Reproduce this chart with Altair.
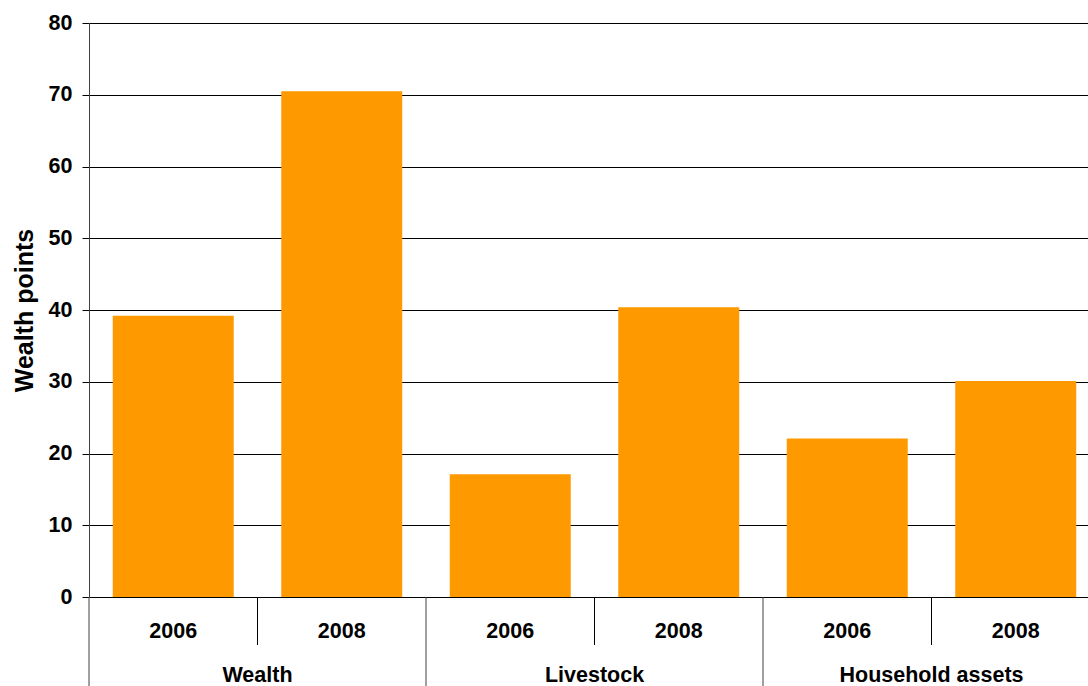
import altair as alt
import pandas as pd

groups = ["Wealth", "Wealth", "Livestock", "Livestock", "Household assets", "Household assets"]
years = ["2006", "2008", "2006", "2008", "2006", "2008"]
values = [39.2, 70.5, 17.1, 40.4, 22.1, 30.1]
keys = [g + " " + y for g, y in zip(groups, years)]

group_names = ["Wealth", "Livestock", "Household assets"]
group_centers = [1, 3, 5]
year_centers = [0.5, 1.5, 2.5, 3.5, 4.5, 5.5]
short_seps = [1, 3, 5]
long_seps = [0, 2, 4, 6]

FONT = "Liberation Sans"
W, H = 999, 574
RANGE = [0, 1011]

bars_df = pd.DataFrame({"key": keys, "group": groups, "year": years, "value": values})
year_df = pd.DataFrame({"pos": year_centers, "label": years})
group_df = pd.DataFrame({"pos": group_centers, "label": group_names})
short_df = pd.DataFrame({"pos": short_seps})
long_df = pd.DataFrame({"pos": long_seps})

qx = alt.Scale(domain=[0, 6], range=RANGE, nice=False, zero=False)

bars = alt.Chart(bars_df).mark_bar(color="#FF9900").encode(
    x=alt.X("key:N", sort=keys, axis=None,
            scale=alt.Scale(domain=keys, range=RANGE, paddingInner=0.282, paddingOuter=0.141)),
    y=alt.Y("value:Q",
            scale=alt.Scale(domain=[0, 80], nice=False),
            axis=alt.Axis(values=[0, 10, 20, 30, 40, 50, 60, 70, 80], grid=True,
                          gridColor="#000000", gridWidth=1, gridOpacity=1,
                          domainColor="#404040", domainWidth=1,
                          tickColor="#000000", tickSize=7, tickWidth=1,
                          labelFont=FONT, labelFontSize=21.5, labelFontWeight="bold",
                          labelColor="#000000", labelPadding=10,
                          title="Wealth points", titleFont=FONT, titleFontSize=25,
                          titleFontWeight="bold", titleColor="#000000",
                          titleAngle=270, titleAlign="center", titleBaseline="middle",
                          titleX=-65, titleY=287)),
)

year_text = alt.Chart(year_df).mark_text(
    font=FONT, fontSize=21.5, fontWeight="bold", color="#000000", baseline="middle", align="center"
).encode(
    x=alt.X("pos:Q", scale=qx, axis=None),
    y=alt.value(609),
    text="label:N",
)

group_text = alt.Chart(group_df).mark_text(
    font=FONT, fontSize=21.5, fontWeight="bold", color="#000000", baseline="middle", align="center"
).encode(
    x=alt.X("pos:Q", scale=qx, axis=None),
    y=alt.value(653),
    text="label:N",
)

short_rules = alt.Chart(short_df).mark_rule(color="#000000", strokeWidth=1).encode(
    x=alt.X("pos:Q", scale=qx, axis=None),
    y=alt.value(H),
    y2=alt.value(622),
)

long_rules = alt.Chart(long_df).mark_rule(color="#404040", strokeWidth=1).encode(
    x=alt.X("pos:Q", scale=qx, axis=None),
    y=alt.value(H),
    y2=alt.value(663),
)

chart = alt.layer(bars, year_text, group_text, short_rules, long_rules).resolve_scale(
    x="independent"
).properties(
    width=W, height=H,
    autosize=alt.AutoSizeParams(type="none"),
    padding={"left": 89, "top": 23, "right": 0, "bottom": 89},
    background="#FFFFFF",
).configure_view(stroke=None)

chart.save("out.html", embed_options={"renderer": "svg", "actions": False})
